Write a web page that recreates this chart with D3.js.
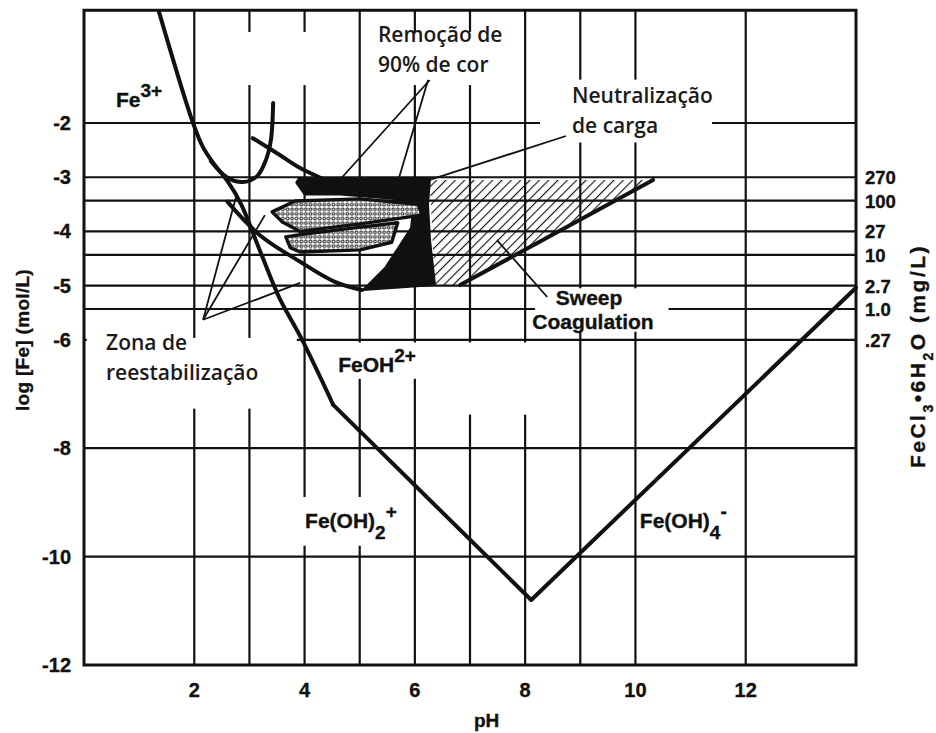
<!DOCTYPE html>
<html>
<head>
<meta charset="utf-8">
<script src="https://cdn.jsdelivr.net/npm/d3@7"></script>
<style>
  body { margin: 0; background: #fff; }
  svg { display: block; }
  .bold { font-family: "Liberation Sans", Arial, sans-serif; font-weight: bold; stroke: #111; stroke-width: 0.35px; }
  .pt { font-family: "Open Sans", sans-serif; font-weight: 600; }
</style>
</head>
<body>
<svg id="chart" width="936" height="733"></svg>
<script>
// ---- Axis values ----
const phTicks = [2, 4, 6, 8, 10, 12];
const phGrid = [2, 3, 4, 5, 6, 7, 8, 9, 10, 12];
const logTicks = [-2, -3, -4, -5, -6, -8, -10, -12];
const logGrid = [-2, -8, -10];
// FeCl3·6H2O dose (mg/L) on the right-hand axis
const doseLabels = ["270", "100", "27", "10", "2.7", "1.0", ".27"];
const doseValues = [270, 100, 27, 10, 2.7, 1.0, 0.27];
const molarMassFeCl3 = 270.3; // g/mol

// ---- Solubility / speciation lines: [pH, log Fe] ----
const totalFeAcid = [[1.36, 0.05], [1.977, -2.0], [2.16, -2.45], [2.36, -2.76], [2.6, -3.07],
  [2.85, -3.5], [3.2, -4.38], [3.55, -5.24], [3.94, -5.97], [4.52, -7.2]];
const totalFeBase = [[4.52, -7.2], [8.11, -10.8], [14.0, -5.04]];
const hookCurve = [[2.3, -2.7], [2.59, -3.0], [2.88, -3.09], [3.14, -2.98], [3.30, -2.68], [3.39, -2.31], [3.43, -1.63]];
const restabUpper = [[3.06, -2.28], [3.55, -2.59], [3.92, -2.83], [4.55, -3.13]];
const restabLower = [[2.6, -3.45], [3.19, -4.07], [3.92, -4.56], [4.55, -4.93], [5.04, -5.08]];

// ---- Coagulation zones: [pH, log Fe] ----
const chargeNeutral = [[3.9, -3.015], [6.275, -3.015], [6.239, -3.513], [6.275, -4.159], [6.366, -4.989],
  [5.06, -5.081], [5.459, -4.675], [5.731, -4.251], [5.93, -3.937], [5.967, -3.605], [5.64, -3.4],
  [4.643, -3.32], [4.0, -3.32], [3.85, -3.1]];
const colorUpper = [[3.41, -3.64], [3.83, -3.44], [5.01, -3.4], [6.06, -3.5], [6.13, -3.7],
  [5.01, -3.86], [3.92, -4.0], [3.59, -3.82]];
const colorLower = [[3.66, -4.1], [3.92, -4.06], [5.01, -3.92], [5.69, -3.84], [5.58, -4.2], [5.01, -4.34],
  [3.92, -4.38], [3.74, -4.3]];
const sweepZone = [[6.27, -3.05], [10.32, -3.05], [6.82, -4.99], [6.36, -4.99]];
const sweepEdge = [[10.32, -3.05], [6.82, -4.99]];

// ---- Annotation leaders: [from, to] ----
const colorLeaders = [[[6.27, -1.207], [4.62, -3.07]], [[6.24, -1.207], [5.69, -3.09]]];
const neutralLeader = [[8.74, -2.24], [6.27, -3.05]];
const restabLeaders = [[[2.16, -5.63], [2.76, -3.35]], [[2.16, -5.63], [3.28, -3.70]], [[2.16, -5.63], [3.92, -4.95]]];
const sweepLeader = [[8.40, -5.21], [7.49, -4.16]];

const svg = d3.select("#chart");
const x = d3.scaleLinear().domain([0, 14]).range([84, 856]);
const y = d3.scaleLinear().domain([-2, -12]).range([123, 665]);
const doseToLog = mg => Math.log10(mg / 1000 / molarMassFeCl3);
const yTop = y(0.08), yBot = y(-12);

// patterns
const defs = svg.append("defs");
const hatch = defs.append("pattern").attr("id", "hatch").attr("patternUnits", "userSpaceOnUse")
  .attr("width", 6.6).attr("height", 6.6).attr("patternTransform", "rotate(45)");
hatch.append("line").attr("x1", 0).attr("y1", 0).attr("x2", 0).attr("y2", 6.6)
  .attr("stroke", "#111").attr("stroke-width", 2.2);
const dots = defs.append("pattern").attr("id", "dots").attr("patternUnits", "userSpaceOnUse")
  .attr("width", 4.6).attr("height", 4.6);
dots.append("rect").attr("width", 4.6).attr("height", 4.6).attr("fill", "#fff");
dots.append("circle").attr("cx", 2.3).attr("cy", 2.3).attr("r", 1.45)
  .attr("fill", "none").attr("stroke", "#111").attr("stroke-width", 1.0);

// ---- Grid ----
const grid = svg.append("g").attr("stroke", "#111").attr("stroke-width", 2.2);
phGrid.forEach(v => grid.append("line").attr("x1", x(v)).attr("x2", x(v)).attr("y1", yTop).attr("y2", yBot));
logGrid.forEach(v => grid.append("line").attr("x1", x(0)).attr("x2", x(14)).attr("y1", y(v)).attr("y2", y(v)));
doseValues.forEach(d => grid.append("line").attr("x1", x(0)).attr("x2", x(14))
  .attr("y1", y(doseToLog(d))).attr("y2", y(doseToLog(d))));

// cleared areas behind the labels
const clear = svg.append("g").attr("fill", "#fff");
const clearBox = (p0, l0, p1, l1) => clear.append("rect")
  .attr("x", x(p0)).attr("y", y(l0)).attr("width", x(p1) - x(p0)).attr("height", y(l1) - y(l0));
clearBox(2.83, -0.32, 4.65, -1.3);     // above the restabilization hook
clearBox(5.22, -0.32, 7.63, -1.3);     // "Remoção de 90% de cor"
clearBox(8.27, -1.2, 11.39, -2.36);    // "Neutralização de carga"
clearBox(0.05, -5.965, 3.86, -7.27);   // "Zona de reestabilização"
clearBox(4.64, -6.05, 6.27, -6.72);    // FeOH2+
clearBox(6.82, -6.05, 8.34, -7.38);    // below the sweep zone
clearBox(8.18, -5.05, 10.6, -5.85);    // "Sweep Coagulation"
clearBox(3.95, -8.9, 5.74, -9.8);      // Fe(OH)2+

// ---- Zones ----
const line = d3.line().x(d => x(d[0])).y(d => y(d[1]));
svg.append("path").attr("d", line(sweepZone) + "Z").attr("fill", "url(#hatch)");
svg.append("path").attr("d", line(chargeNeutral) + "Z").attr("fill", "#111")
  .attr("stroke", "#111").attr("stroke-width", 2).attr("stroke-linejoin", "round");
[colorUpper, colorLower].forEach(z => svg.append("path").attr("d", line(z) + "Z")
  .attr("fill", "url(#dots)").attr("stroke", "#111").attr("stroke-width", 3.4).attr("stroke-linejoin", "round"));

// ---- Boundary curves ----
const thick = (pts, curve) => svg.append("path")
  .attr("d", d3.line().x(d => x(d[0])).y(d => y(d[1])).curve(curve || d3.curveLinear)(pts))
  .attr("fill", "none").attr("stroke", "#111").attr("stroke-width", 4)
  .attr("stroke-linejoin", "round").attr("stroke-linecap", "round");
thick(totalFeAcid, d3.curveCatmullRom);
thick(totalFeBase);
thick(hookCurve, d3.curveCatmullRom);
thick(restabUpper, d3.curveCatmullRom);
thick(restabLower, d3.curveCatmullRom);
thick(sweepEdge);

// ---- Leaders ----
const leader = seg => svg.append("line")
  .attr("x1", x(seg[0][0])).attr("y1", y(seg[0][1])).attr("x2", x(seg[1][0])).attr("y2", y(seg[1][1]))
  .attr("stroke", "#111").attr("stroke-width", 1.8);
colorLeaders.forEach(leader);
restabLeaders.forEach(leader);
leader(neutralLeader);
leader(sweepLeader);

// ---- Frame ----
svg.append("rect").attr("x", x(0)).attr("y", yTop).attr("width", x(14) - x(0)).attr("height", yBot - yTop)
  .attr("fill", "none").attr("stroke", "#111").attr("stroke-width", 3);

// ---- Axis labels ----
const axes = svg.append("g").attr("class", "bold").attr("fill", "#111");
logTicks.forEach(v => axes.append("text").attr("x", 71).attr("y", y(v) + 7)
  .attr("text-anchor", "end").attr("font-size", 20).text(v));
phTicks.forEach(v => axes.append("text").attr("x", x(v)).attr("y", 697)
  .attr("text-anchor", "middle").attr("font-size", 20).text(v));
doseLabels.forEach((t, i) => axes.append("text").attr("x", 865).attr("y", y(doseToLog(doseValues[i])) + 7)
  .attr("font-size", 18.5).text(t));
axes.append("text").attr("x", x(7.3)).attr("y", 727).attr("text-anchor", "middle")
  .attr("font-size", 19).text("pH");
axes.append("text").attr("transform", `translate(29,340) rotate(-90)`).attr("text-anchor", "middle")
  .attr("font-size", 19).attr("letter-spacing", 0.3).text("log [Fe] (mol/L)");
const rl = axes.append("text").attr("transform", `translate(925,356) rotate(-90)`)
  .attr("text-anchor", "middle").attr("font-size", 21).attr("letter-spacing", 2.5);
rl.append("tspan").text("FeCl");
rl.append("tspan").attr("baseline-shift", "sub").attr("font-size", 14).text("3");
rl.append("tspan").text("•6H");
rl.append("tspan").attr("baseline-shift", "sub").attr("font-size", 14).text("2");
rl.append("tspan").text("O (mg/L)");

// ---- Species labels ----
const species = (p, l, parts) => {
  const t = axes.append("text").attr("x", x(p)).attr("y", y(l)).attr("font-size", 21);
  parts.forEach(([s, shift]) => {
    const ts = t.append("tspan").text(s);
    if (shift) ts.attr("baseline-shift", shift).attr("font-size", 19);
  });
  return t;
};
species(0.58, -1.705, [["Fe"], ["3+", "super"]]);
species(4.61, -6.59, [["FeOH"], ["2+", "super"]]);
species(4.01, -9.48, [["Fe(OH)"], ["2", "sub"], ["+", "super"]]);
species(10.08, -9.48, [["Fe(OH)"], ["4", "sub"], ["-", "super"]]);
axes.append("text").attr("x", x(9.16)).attr("y", y(-5.36)).attr("text-anchor", "middle")
  .attr("font-size", 21).text("Sweep");
axes.append("text").attr("x", x(9.23)).attr("y", y(-5.8)).attr("text-anchor", "middle")
  .attr("font-size", 21).text("Coagulation");

// ---- Zone notes ----
const notes = svg.append("g").attr("class", "pt").attr("fill", "#1a1a1a").attr("font-size", 21);
const note = (p, l, lines) => lines.forEach((s, i) =>
  notes.append("text").attr("x", x(p)).attr("y", y(l) + i * 30).text(s));
note(5.33, -0.506, ["Remoção de", "90% de cor"]);
note(8.85, -1.63, ["Neutralização", "de carga"]);
note(0.4, -6.19, ["Zona de", "reestabilização"]);
</script>
</body>
</html>
